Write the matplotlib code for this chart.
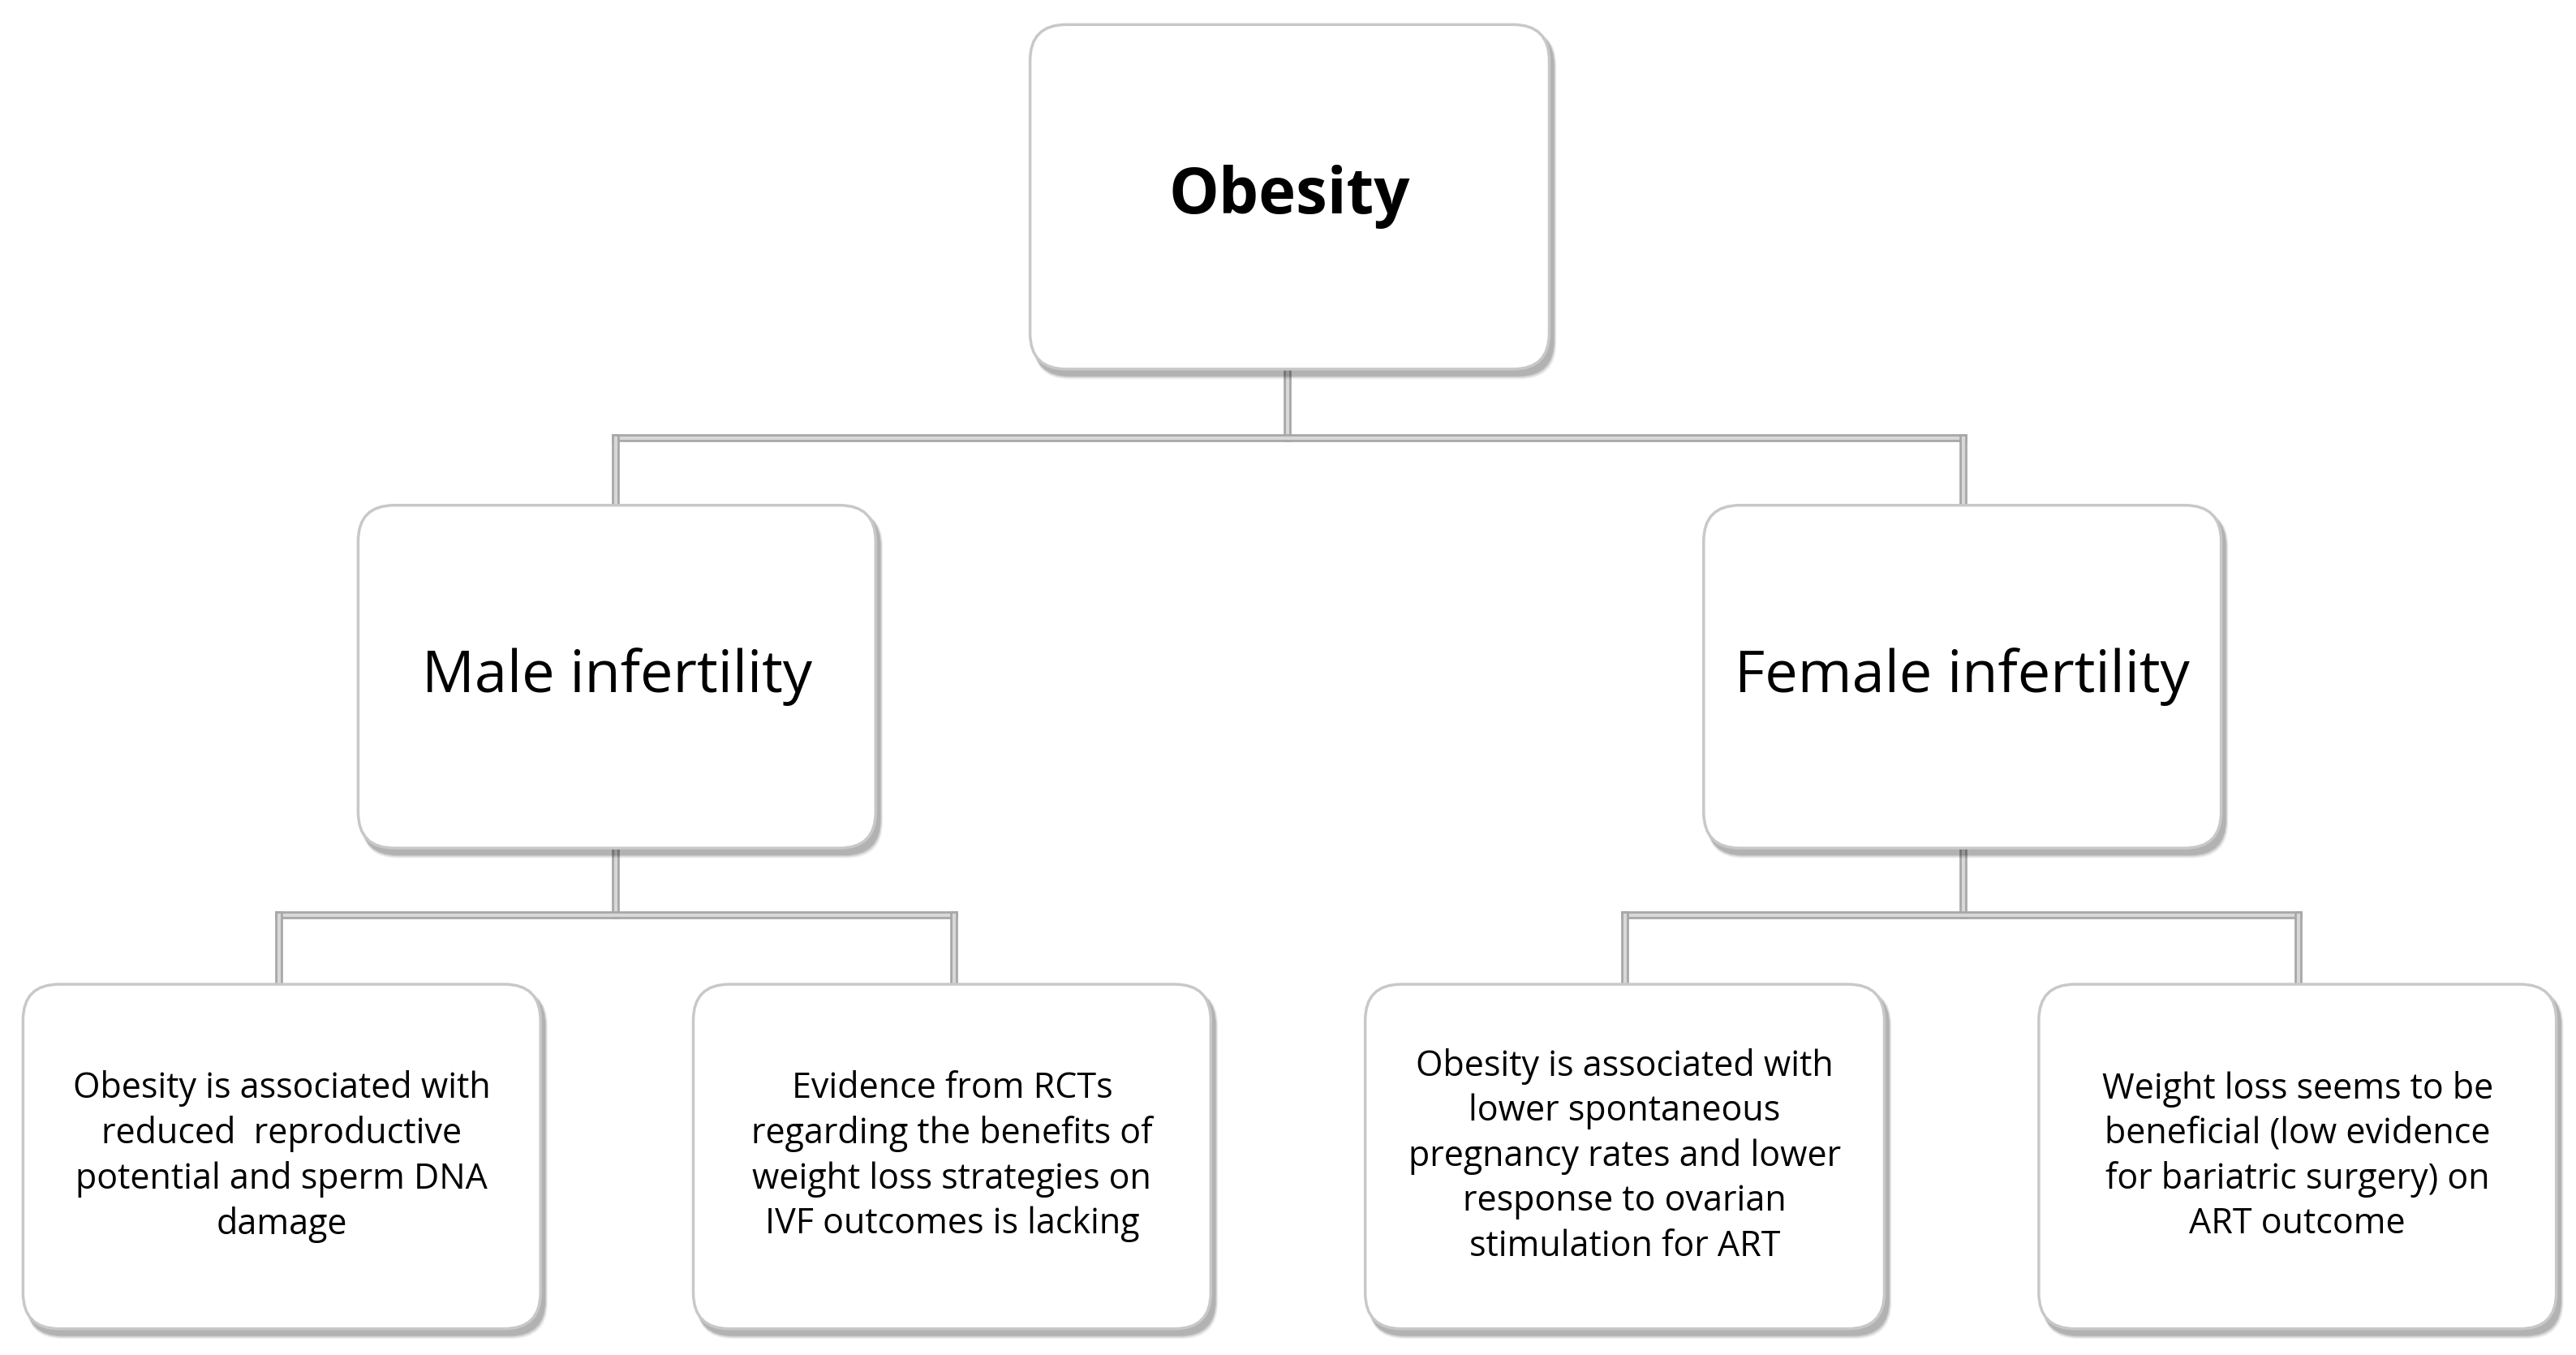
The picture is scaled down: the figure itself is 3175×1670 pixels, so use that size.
import matplotlib
matplotlib.use("Agg")
import matplotlib.pyplot as plt
from matplotlib.patches import FancyBboxPatch

W, H = 1568, 826
root = "Obesity"
mid = ["Male infertility", "Female infertility"]
leaves = ["Obesity is associated with\nreduced  reproductive\npotential and sperm DNA\ndamage",
          "Evidence from RCTs\nregarding the benefits of\nweight loss strategies on\nIVF outcomes is lacking",
          "Obesity is associated with\nlower spontaneous\npregnancy rates and lower\nresponse to ovarian\nstimulation for ART",
          "Weight loss seems to be\nbeneficial (low evidence\nfor bariatric surgery) on\nART outcome"]

fig = plt.figure(figsize=(31.75, 16.7), dpi=100)
ax = fig.add_axes([0, 0, 1, 1])
ax.set_xlim(0, W); ax.set_ylim(H, 0); ax.axis("off")

def box(x0, x1, y0, y1, text, size, weight="normal", ls=1.1):
    for i, a in enumerate([0.05, 0.07, 0.09, 0.12]):
        d = 8 - i * 1.5
        ax.add_patch(FancyBboxPatch((x0 + 2, y0 + 3), x1 - x0 + d * 0.3, y1 - y0 + d * 0.4,
                                    boxstyle="round,pad=0,rounding_size=22", fc="black", ec="none", alpha=a, zorder=2))
    ax.add_patch(FancyBboxPatch((x0, y0), x1 - x0, y1 - y0, boxstyle="round,pad=0,rounding_size=22",
                                fc="white", ec="#c8c8c8", lw=2.5, zorder=3))
    ax.text((x0 + x1) / 2, (y0 + y1) / 2, text, ha="center", va="center", fontsize=size,
            fontweight=weight, family="Open Sans", linespacing=ls, zorder=4)

def conn(px, py0, py1, xs, cy1):
    segs = [((px, px), (py0, py1)), ((min(xs), max(xs)), (py1, py1))]
    segs += [((x, x), (py1, cy1)) for x in xs]
    for (xx, yy) in segs:
        ax.plot(xx, yy, color="#a8a8a8", lw=7, solid_capstyle="projecting", zorder=1)
        ax.plot(xx, yy, color="#d8d8d8", lw=3, solid_capstyle="projecting", zorder=1)

conn(784, 225, 267, [375, 1195], 308)
conn(375, 517, 558, [170, 581], 600)
conn(1195, 517, 558, [989, 1399], 600)

box(627, 943, 15, 225, root, 56, "bold")
box(218, 533, 308, 517, mid[0], 52)
box(1037, 1352, 308, 517, mid[1], 52)
for (x0, x1), t in zip([(14, 329), (422, 737), (831, 1147), (1241, 1556)], leaves):
    box(x0, x1, 600, 810, t, 31, ls=1.32)

fig.savefig("out.png", dpi=100, facecolor="white")
